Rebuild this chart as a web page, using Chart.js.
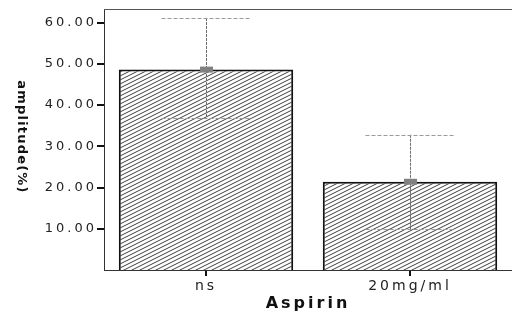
<!DOCTYPE html>
<html>
<head>
<meta charset="utf-8">
<script src="https://cdn.jsdelivr.net/npm/chart.js@4"></script>
<style>
  html, body { margin: 0; padding: 0; background: #fff; overflow: hidden; }
  #wrap { width: 512px; height: 313px; }
  canvas { display: block; }
</style>
</head>
<body>
<div id="wrap"><canvas id="c" width="512" height="313"></canvas></div>
<script>
const categories = ['ns', '20mg/ml'];
const meanValues = [48.6, 21.4];
const upperValues = [61.1, 32.8];
const lowerValues = [36.8, 9.9];
const yTicks = [10, 20, 30, 40, 50, 60];
const yTitle = 'amplitude(%)';
const xTitle = 'Aspirin';

function makeHatch() {
  const w = 8, h = 4;
  const c = document.createElement('canvas');
  c.width = w; c.height = h;
  const g = c.getContext('2d');
  g.fillStyle = '#fff';
  g.fillRect(0, 0, w, h);
  g.strokeStyle = '#2a2a2a';
  g.lineWidth = 0.9;
  for (let k = -1; k <= 1; k++) {
    g.beginPath();
    g.moveTo(-w, 2 * h + k * h);
    g.lineTo(2 * w, -h + k * h);
    g.stroke();
  }
  return g.createPattern(c, 'repeat');
}

const extras = {
  id: 'extras',
  beforeDraw(chart) {
    chart.ctx.letterSpacing = '3px';
  },
  afterDatasetsDraw(chart) {
    const ctx = chart.ctx;
    const xs = chart.scales.x, ys = chart.scales.y;
    const ca = chart.chartArea;
    ctx.save();
    ctx.strokeStyle = '#555';
    ctx.lineWidth = 1;
    ctx.beginPath();
    ctx.moveTo(ca.left, ca.top + 0.5);
    ctx.lineTo(ca.right, ca.top + 0.5);
    ctx.stroke();
    const half = 45;
    for (let i = 0; i < categories.length; i++) {
      const x = Math.round(xs.getPixelForValue(i)) + 0.5;
      const yu = ys.getPixelForValue(upperValues[i]);
      const yl = ys.getPixelForValue(lowerValues[i]);
      const ym = ys.getPixelForValue(meanValues[i]);
      ctx.strokeStyle = '#6a6a6a';
      ctx.lineWidth = 1;
      ctx.setLineDash([3, 1]);
      ctx.beginPath();
      ctx.moveTo(x, yu);
      ctx.lineTo(x, yl);
      ctx.stroke();
      ctx.strokeStyle = '#9a9a9a';
      ctx.setLineDash([4, 2]);
      ctx.beginPath();
      ctx.moveTo(x - half, Math.round(yu) + 0.5);
      ctx.lineTo(x + half, Math.round(yu) + 0.5);
      ctx.moveTo(x - half, Math.round(yl) + 0.5);
      ctx.lineTo(x + half, Math.round(yl) + 0.5);
      ctx.stroke();
      ctx.setLineDash([]);
      ctx.fillStyle = '#808080';
      ctx.fillRect(x - 6.5, ym - 3, 13, 6);
    }
    ctx.restore();
  },
  afterDraw(chart) {
    const ctx = chart.ctx;
    const ca = chart.chartArea;
    ctx.save();
    ctx.letterSpacing = '1.2px';
    ctx.font = 'bold 13px "DejaVu Sans"';
    ctx.fillStyle = '#111';
    ctx.textAlign = 'center';
    ctx.textBaseline = 'middle';
    ctx.translate(21, 137);
    ctx.rotate(Math.PI / 2);
    ctx.fillText(yTitle, 0, 0);
    ctx.restore();
  }
};

new Chart(document.getElementById('c'), {
  type: 'bar',
  data: {
    labels: categories,
    datasets: [{
      data: meanValues,
      backgroundColor: makeHatch(),
      borderColor: '#111',
      borderWidth: 2,
      borderSkipped: 'bottom',
      categoryPercentage: 1,
      barPercentage: 0.855
    }]
  },
  options: {
    responsive: false,
    animation: false,
    devicePixelRatio: 1,
    layout: { padding: { left: 0, right: 0, top: 9, bottom: 0 } },
    plugins: { legend: { display: false }, tooltip: { enabled: false } },
    scales: {
      x: {
        grid: { display: true, drawOnChartArea: false, offset: false, tickLength: 6, color: '#111', lineWidth: 2 },
        border: { display: true, color: '#333', width: 1 },
        ticks: { color: '#222', font: { family: 'DejaVu Sans', size: 14 }, padding: 2, maxRotation: 0 },
        title: { display: true, text: xTitle, color: '#111', font: { family: 'DejaVu Sans', size: 16, weight: 'bold' }, padding: { top: 0, bottom: 0 } },
        afterFit(s) { s.height = 43; }
      },
      y: {
        min: 0,
        max: 63.3,
        afterBuildTicks(s) { s.ticks = yTicks.map(v => ({ value: v })); },
        grid: { display: true, drawOnChartArea: false, tickLength: 7, color: '#111', lineWidth: 2 },
        border: { display: true, color: '#333', width: 1, dash: [4, 1] },
        ticks: { color: '#222', font: { family: 'DejaVu Sans', size: 13 }, padding: 0, callback: v => v.toFixed(2) },
        afterFit(s) { s.width = 104; }
      }
    }
  },
  plugins: [extras]
});
</script>
</body>
</html>
